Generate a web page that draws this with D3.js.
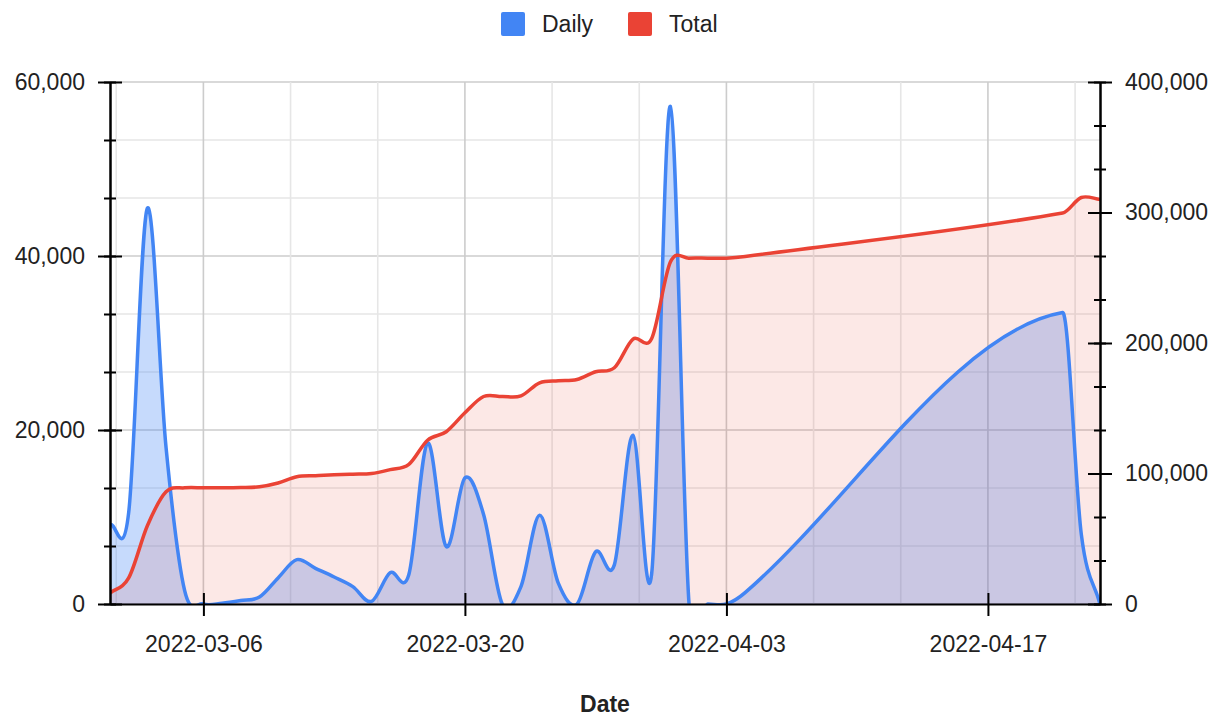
<!DOCTYPE html>
<meta charset="utf-8">
<script src="https://d3js.org/d3.v7.min.js"></script>
<style>
  body { margin: 0; background: #fff; }
  text { font-family: "Liberation Sans", Arial, sans-serif; fill: #222; }
</style>
<body>
<script>
// data
var dateStr = ["2022-03-01","2022-03-02","2022-03-03","2022-03-04","2022-03-05","2022-03-06","2022-03-07",
  "2022-03-08","2022-03-09","2022-03-10","2022-03-11","2022-03-12","2022-03-13","2022-03-14","2022-03-15",
  "2022-03-16","2022-03-17","2022-03-18","2022-03-19","2022-03-20","2022-03-21","2022-03-22","2022-03-23",
  "2022-03-24","2022-03-25","2022-03-26","2022-03-27","2022-03-28","2022-03-29","2022-03-30","2022-03-31",
  "2022-04-01","2022-04-02","2022-04-03","2022-04-04","2022-04-21","2022-04-22","2022-04-23"];
var daily = [9100,10500,45500,18000,1500,0,100,400,800,3000,5100,4100,3100,2000,300,3600,3400,18500,6600,14500,
  10300,0,2000,10200,2400,0,6000,4500,19400,3500,57200,0,0,0,1300,33500,8000,0];
var total = [8400,20000,60000,86000,89000,89000,89000,89200,89800,92700,97500,98300,99000,99500,100000,103000,
  107000,125500,132000,146500,159000,159000,159500,169500,171000,172000,178000,181000,203000,203500,262000,
  265000,265000,265000,266300,299600,311500,310000];

var seriesNames = ["Daily", "Total"];
var seriesColors = ["#4285f4", "#ea4335"];
var leftTicks = [0, 20000, 40000, 60000];
var rightTicks = [0, 100000, 200000, 300000, 400000];
var xTickStr = ["2022-03-06", "2022-03-20", "2022-04-03", "2022-04-17"];

var parse = d3.timeParse("%Y-%m-%d");
var dates = dateStr.map(parse);
var data = dates.map(function(d, i) { return {date: d, daily: daily[i], total: total[i]}; });

var W = 1215, H = 718;
var L = 110, R = 1100, T = 82, B = 604;

var svg = d3.select("body").append("svg").attr("width", W).attr("height", H);

var x = d3.scaleTime().domain(d3.extent(dates)).range([L, R]);
var yL = d3.scaleLinear().domain([0, d3.max(leftTicks)]).range([B, T]);
var yR = d3.scaleLinear().domain([0, d3.max(rightTicks)]).range([B, T]);

// smoothing like a "function" curve: hermite with x-based finite difference slopes
function curveFn(context) {
  return {
    areaStart: function() { this._line = 0; },
    areaEnd: function() { this._line = NaN; },
    lineStart: function() { this._x = []; this._y = []; },
    point: function(a, b) { this._x.push(+a); this._y.push(+b); },
    lineEnd: function() {
      var X = this._x, Y = this._y, n = X.length, c = context;
      if (n) {
        if (this._line) c.lineTo(X[0], Y[0]); else c.moveTo(X[0], Y[0]);
        if (n == 2) c.lineTo(X[1], Y[1]);
        else if (n > 2) {
          var m = [];
          for (var i = 0; i < n; i++) {
            if (i == 0) m[i] = (Y[1] - Y[0]) / (X[1] - X[0]);
            else if (i == n - 1) m[i] = (Y[i] - Y[i-1]) / (X[i] - X[i-1]);
            else m[i] = (Y[i+1] - Y[i-1]) / (X[i+1] - X[i-1]);
          }
          for (var i = 0; i < n - 1; i++) {
            var dx = (X[i+1] - X[i]) / 3;
            c.bezierCurveTo(X[i] + dx, Y[i] + m[i]*dx, X[i+1] - dx, Y[i+1] - m[i+1]*dx, X[i+1], Y[i+1]);
          }
        }
      }
      if (this._line || (this._line !== 0 && n === 1)) c.closePath();
      this._line = 1 - this._line;
    }
  };
}

svg.append("clipPath").attr("id", "plot")
  .append("rect").attr("x", L).attr("y", T).attr("width", R - L).attr("height", B - T);

// gridlines
var minorY = d3.range(0, d3.max(leftTicks) + 1, (leftTicks[1] - leftTicks[0]) / 3);
svg.append("g").selectAll("line").data(minorY).enter().append("line")
  .attr("x1", L).attr("x2", R)
  .attr("y1", function(d) { return yL(d); }).attr("y2", function(d) { return yL(d); })
  .attr("stroke", function(d) { return leftTicks.indexOf(Math.round(d)) >= 0 ? "#cccccc" : "#e6e6e6"; })
  .attr("stroke-width", 1.6);

var xMajor = xTickStr.map(parse);
var minorX = d3.range(-3, 13).map(function(i) { return d3.timeHour.offset(xMajor[0], i * 112); })
  .filter(function(d) { return x(d) > L + 2 && x(d) < R - 2; });
svg.append("g").selectAll("line").data(minorX).enter().append("line")
  .attr("y1", T).attr("y2", B)
  .attr("x1", function(d) { return x(d); }).attr("x2", function(d) { return x(d); })
  .attr("stroke", function(d, i) { return (i % 3 == 1) ? "#cccccc" : "#e6e6e6"; })
  .attr("stroke-width", 1.6);

// areas and lines
var plot = svg.append("g").attr("clip-path", "url(#plot)");

var areaD = d3.area().curve(curveFn)
  .x(function(d) { return x(d.date); }).y0(yL(0)).y1(function(d) { return yL(d.daily); });
var areaT = d3.area().curve(curveFn)
  .x(function(d) { return x(d.date); }).y0(yR(0)).y1(function(d) { return yR(d.total); });
var lineD = d3.line().curve(curveFn)
  .x(function(d) { return x(d.date); }).y(function(d) { return yL(d.daily); });
var lineT = d3.line().curve(curveFn)
  .x(function(d) { return x(d.date); }).y(function(d) { return yR(d.total); });

plot.append("path").datum(data).attr("d", areaD).attr("fill", seriesColors[0]).attr("fill-opacity", 0.3);
plot.append("path").datum(data).attr("d", areaT).attr("fill", seriesColors[1]).attr("fill-opacity", 0.12);
plot.append("path").datum(data).attr("d", lineD).attr("fill", "none")
  .attr("stroke", seriesColors[0]).attr("stroke-width", 3.5).attr("stroke-linejoin", "round");
plot.append("path").datum(data).attr("d", lineT).attr("fill", "none")
  .attr("stroke", seriesColors[1]).attr("stroke-width", 3.5).attr("stroke-linejoin", "round");

// axes
var fmt = d3.format(",");
var gl = svg.append("g").attr("transform", "translate(" + L + ",0)");
gl.call(d3.axisLeft(yL).tickValues(minorY).tickFormat("").tickSizeOuter(0));
gl.selectAll(".tick line").attr("x1", -6).attr("x2", 6);
var gl2 = svg.append("g").attr("transform", "translate(" + L + ",0)");
gl2.call(d3.axisLeft(yL).tickValues(leftTicks).tickFormat(fmt).tickSize(12).tickPadding(13).tickSizeOuter(0));
gl2.selectAll(".tick line").attr("x1", -12).attr("x2", 12);

var gr = svg.append("g").attr("transform", "translate(" + R + ",0)");
gr.call(d3.axisRight(yR).tickValues(d3.range(0, d3.max(rightTicks) + 1, (rightTicks[1] - rightTicks[0]) / 3))
  .tickFormat("").tickSizeOuter(0));
gr.selectAll(".tick line").attr("x1", -6).attr("x2", 6);
var gr2 = svg.append("g").attr("transform", "translate(" + R + ",0)");
gr2.call(d3.axisRight(yR).tickValues(rightTicks).tickFormat(fmt).tickSize(12).tickPadding(13).tickSizeOuter(0));
gr2.selectAll(".tick line").attr("x1", -12).attr("x2", 12);

var gx = svg.append("g").attr("transform", "translate(0," + B + ")");
gx.call(d3.axisBottom(x).tickValues(xMajor).tickFormat(d3.timeFormat("%Y-%m-%d"))
  .tickSize(12).tickPadding(20).tickSizeOuter(0));
gx.selectAll(".tick line").attr("y1", -11).attr("y2", 12);

svg.selectAll(".domain").attr("stroke", "#000").attr("stroke-width", 2);
svg.selectAll(".tick line").attr("stroke", "#000").attr("stroke-width", 2);
svg.selectAll(".tick text").style("font-size", "23px").attr("fill", "#222");

svg.append("text").attr("x", (L + R) / 2).attr("y", 712).attr("text-anchor", "middle")
  .style("font-size", "23px").style("font-weight", "bold").text("Date");

// legend
var leg = svg.append("g").attr("transform", "translate(501,12)");
var item = leg.selectAll("g").data(seriesNames).enter().append("g")
  .attr("transform", function(d, i) { return "translate(" + (i * 127) + ",0)"; });
item.append("rect").attr("width", 24).attr("height", 24).attr("rx", 2)
  .attr("fill", function(d, i) { return seriesColors[i]; });
item.append("text").attr("x", 41).attr("y", 20).style("font-size", "23px").text(function(d) { return d; });
</script>
</body>
